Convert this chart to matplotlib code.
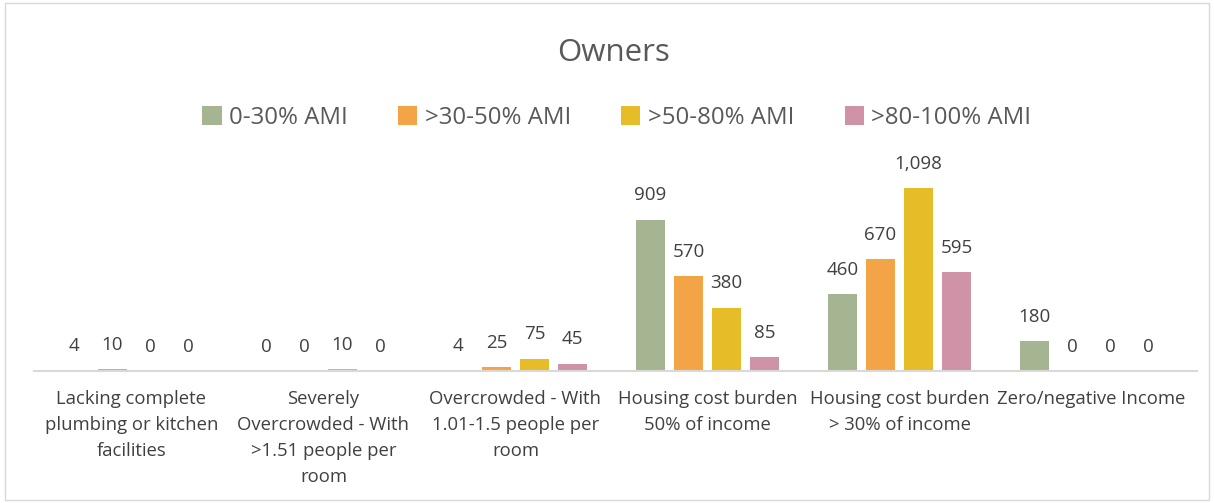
import matplotlib
matplotlib.use("Agg")
import matplotlib.pyplot as plt
import numpy as np
from matplotlib.patches import Rectangle

categories = ["Lacking complete\nplumbing or kitchen\nfacilities",
              "Severely\nOvercrowded - With\n>1.51 people per\nroom",
              "Overcrowded - With\n1.01-1.5 people per\nroom",
              "Housing cost burden\n50% of income",
              "Housing cost burden\n> 30% of income",
              "Zero/negative Income"]
series_names = ["0-30% AMI", ">30-50% AMI", ">50-80% AMI", ">80-100% AMI"]
ami_0_30 = [4, 0, 4, 909, 460, 180]
ami_30_50 = [10, 0, 25, 570, 670, 0]
ami_50_80 = [0, 10, 75, 380, 1098, 0]
ami_80_100 = [0, 0, 45, 85, 595, 0]
colors = ["#A5B592", "#F3A447", "#E7BC29", "#D092A7"]

plt.rcParams['font.family'] = ['Open Sans', 'DejaVu Sans']
text_col = '#595959'

fig = plt.figure(figsize=(12.14, 5.03), dpi=100)
ax = fig.add_axes([0.0292, 0.2624, 0.949, 0.4394])

x = np.arange(len(categories)) + 0.5
pitch = 0.198
width = 0.152
all_series = [ami_0_30, ami_30_50, ami_50_80, ami_80_100]
for k, vals in enumerate(all_series):
    pos = x + (k - 1.5) * pitch
    ax.bar(pos, vals, width, color=colors[k], label=series_names[k])
    for p, v in zip(pos, vals):
        ax.annotate(f"{v:,}", (p, v), xytext=(0, 11), textcoords='offset points',
                    ha='center', va='bottom', fontsize=13.5, color='#404040')

ax.set_xlim(0, 6)
ax.set_ylim(0, 1326)
ax.set_yticks([])
ax.set_xticks(x)
ax.set_xticklabels(categories, fontsize=13.3, color='#404040', linespacing=1.55)
ax.tick_params(axis='x', length=0, pad=14)
for s in ['top', 'right', 'left']:
    ax.spines[s].set_visible(False)
ax.spines['bottom'].set_color('#D9D9D9')
ax.spines['bottom'].set_linewidth(1.5)
ax.spines['bottom'].set_bounds(-0.005, 6.05)

fig.text(0.505, 0.895, "Owners", ha='center', va='center', fontsize=22.5, color=text_col)
fig.legend(loc='center', bbox_to_anchor=(0.508, 0.766), ncol=4, frameon=False,
           fontsize=17.3, handlelength=0.8, handleheight=0.8, handletextpad=0.3,
           columnspacing=2.1, labelcolor=text_col)

fig.patches.append(Rectangle((0.004, 0.006), 0.992, 0.988, transform=fig.transFigure,
                             fill=False, edgecolor='#D9D9D9', linewidth=1))

fig.savefig("out.png", dpi=100)
